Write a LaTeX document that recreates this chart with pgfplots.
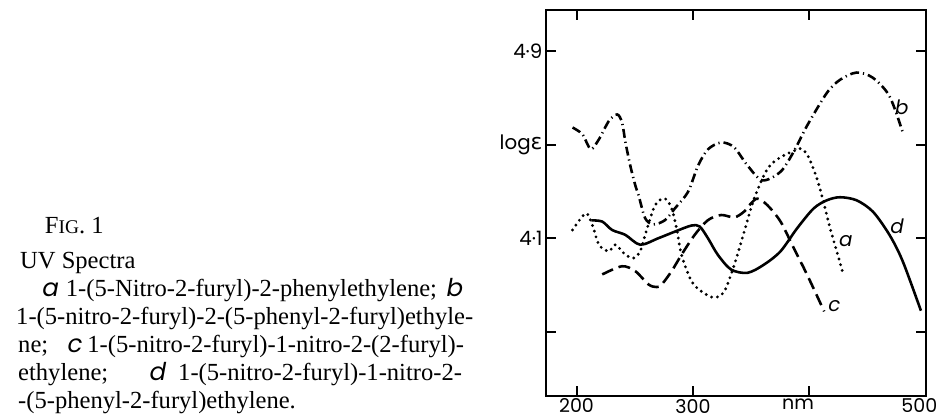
\documentclass[border=0pt]{standalone}
\usepackage{fontspec}
\setmainfont{Liberation Serif}
\newfontfamily\chartfont{Poppins}
\newfontfamily\chartslant[FakeSlant=0.18]{Poppins}
\newfontfamily\greekfont{DejaVu Sans}
\usepackage{pgfplots}
\pgfplotsset{compat=1.18}

\begin{document}
\begin{tikzpicture}
\begin{axis}[
    at={(0,0)}, anchor=south west,
    scale only axis,
    width=192pt, height=194.5pt,
    xmin=173.6, xmax=500.4,
    ymin=3.427, ymax=5.074,
    axis line style={line width=1pt},
    tick pos=both,
    xticklabel pos=lower, yticklabel pos=left,
    tick align=inside,
    major tick length=5pt,
    tick style={line width=1pt, black},
    xtick={200,300,400},
    xticklabels={200,300,{}},
    extra x ticks={390.4,494.5},
    extra x tick labels={nm,500},
    extra x tick style={major tick length=0pt},
    ytick={3.7,4.1,4.5,4.9},
    yticklabels={{},4·1,{log{\greekfont\fontsize{11}{12}\selectfont ε}},4·9},
    ticklabel style={font=\chartfont\fontsize{10}{12}\selectfont, inner sep=0pt},
    xticklabel style={anchor=north, yshift=-1.5pt,
        font=\chartfont\fontsize{9.6}{11}\selectfont},
    yticklabel style={anchor=east, xshift=-1.5pt},
    clip=false,
]
% b
\addplot[black, line width=1.3pt, smooth, tension=0.5,
    dash pattern=on 4.5pt off 2pt on 0.6pt off 2pt] coordinates {
    (196.6,4.573) (205.1,4.544) (212.2,4.481) (219.3,4.523) (227.8,4.601)
    (234.9,4.629) (239.1,4.595) (242.0,4.511) (246.2,4.410) (250.5,4.326)
    (253.4,4.282) (259.0,4.185) (266.1,4.159) (276.0,4.177) (284.5,4.227)
    (295.9,4.299) (304.4,4.410) (313.0,4.480) (324.3,4.509) (335.3,4.489)
    (347.0,4.410) (359.7,4.347) (375.3,4.384) (386.4,4.468) (398.0,4.580)
    (415.1,4.721) (426.4,4.777) (440.6,4.808) (454.5,4.786) (468.9,4.707)
    (480.3,4.552)
};
% a
\addplot[black, line width=1.6pt, smooth, tension=0.5, line cap=round,
    dash pattern=on 0pt off 3pt] coordinates {
    (196.6,4.135) (207.9,4.206) (213.6,4.156) (219.3,4.072) (227.8,4.044)
    (233.4,4.072) (242.0,4.029) (249.1,4.015) (254.7,4.044) (259.0,4.114)
    (267.5,4.241) (276.0,4.269) (281.7,4.227) (286.0,4.142) (290.2,4.029)
    (298.7,3.917) (308.0,3.870) (318.6,3.846) (327.1,3.874) (335.6,3.987)
    (344.1,4.128) (352.6,4.269) (364.0,4.396) (375.3,4.446) (389.5,4.478)
    (393.8,4.481) (399.4,4.446) (406.6,4.354) (412.2,4.255) (417.9,4.142)
    (423.6,4.044) (429.2,3.945)
};
% c
\addplot[black, line width=1.3pt, smooth, tension=0.5,
    dash pattern=on 6pt off 3pt] coordinates {
    (222.1,3.945) (239.1,3.980) (250.5,3.959) (261.9,3.902) (268.9,3.891)
    (273.2,3.902) (281.7,3.959) (290.2,4.029) (301.5,4.114) (312.9,4.177)
    (324.3,4.199) (335.6,4.189) (344.1,4.214) (349.8,4.248) (355.5,4.269)
    (364.0,4.241) (375.3,4.171) (386.6,4.058) (398.0,3.945) (412.8,3.787)
};
% d
\addplot[black, line width=1.3pt, smooth, tension=0.5] coordinates {
    (212.8,4.176) (222.1,4.171) (230.6,4.135) (242.0,4.114) (254.7,4.072)
    (270.4,4.100) (284.5,4.128) (298.7,4.154) (305.8,4.150) (312.9,4.100)
    (321.4,4.029) (332.8,3.966) (347.0,3.952) (361.1,3.987) (375.3,4.044)
    (389.5,4.142) (403.7,4.227) (415.1,4.262) (426.4,4.275) (440.6,4.262)
    (454.7,4.213) (468.9,4.114) (480.3,4.001) (495.9,3.790)
};
\node[font=\chartslant\fontsize{10}{12}\selectfont] at (axis cs:478.7,4.66) {b};
\node[font=\chartslant\fontsize{10}{12}\selectfont] at (axis cs:430.6,4.086) {a};
\node[font=\chartslant\fontsize{10}{12}\selectfont] at (axis cs:474.6,4.15) {d};
\node[font=\chartslant\fontsize{10}{12}\selectfont] at (axis cs:420.7,3.81) {c};
\end{axis}

% caption
\begin{scope}[every node/.style={anchor=base west, inner sep=0pt,
    font=\fontsize{12.4}{14}\selectfont}]
\node at (-253pt,82pt) {F{\fontsize{9.8}{11}\selectfont IG}. 1};
\node at (-265.5pt,64.2pt) {UV Spectra};
\node at (-255pt,50pt) {\makebox[212.5pt][s]{{\chartslant a}\ \ 1-(5-Nitro-2-furyl)-2-phenylethylene;\ \ {\chartslant b}}};
\node at (-267.5pt,36pt) {\makebox[231pt][s]{1-(5-nitro-2-furyl)-2-(5-phenyl-2-furyl)ethyle-}};
\node at (-266.5pt,22pt) {\makebox[225pt][s]{ne;\ \ \ {\chartslant c} 1-(5-nitro-2-furyl)-1-nitro-2-(2-furyl)-}};
\node at (-266.5pt,7.5pt) {\makebox[224pt][s]{ethylene;\ \ \ \ \ \ {\chartslant d}\ \ 1-(5-nitro-2-furyl)-1-nitro-2-}};
\node at (-266.5pt,-6.5pt) {-(5-phenyl-2-furyl)ethylene.};
\end{scope}

\pgfresetboundingbox
\path (-275.5pt,-12.3pt) rectangle (200pt,199.7pt);
\end{tikzpicture}
\end{document}
